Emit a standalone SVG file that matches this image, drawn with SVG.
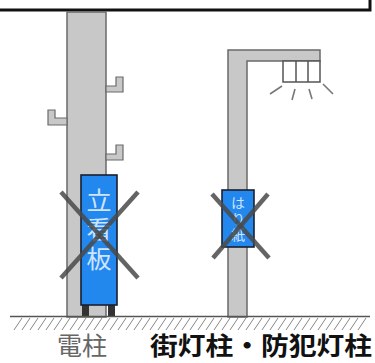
<svg xmlns="http://www.w3.org/2000/svg" width="375" height="363" viewBox="0 0 375 363">
  <style>
    .pole { fill: #c8c8c8; stroke: #6a6a6a; stroke-width: 1.5; }
    .step { fill: #c8c8c8; stroke: #6a6a6a; stroke-width: 1.2; }
    .sign { fill: #2388ee; stroke: #1a2030; stroke-width: 1.6; }
    .leg { fill: #333; }
    .signtext { font-family: "Noto Sans CJK JP", sans-serif; fill: #cfe4ff; writing-mode: vertical-rl; }
    .cross { stroke: #4a4a4a; stroke-width: 4.5; stroke-linecap: butt; opacity: 0.85; }
    .ray { stroke: #777; stroke-width: 1.6; }
    .hatch { stroke: #888; stroke-width: 1; }
    .label { font-family: "Noto Sans CJK JP", sans-serif; }
  </style>
  <rect width="375" height="363" fill="#fff"/>

  <!-- frame edge at the top -->
  <rect x="-6" y="-10" width="376" height="20" fill="#fff" stroke="#111" stroke-width="3"/>

  <!-- utility pole with step bolts -->
  <g id="utility-pole">
    <rect class="pole" x="67" y="12" width="39" height="305"/>
    <path class="step" d="M106 92 H123 V77 H116 V86 H106 Z"/>
    <path class="step" d="M67 125 H48 V110 H55 V118 H67 Z"/>
    <path class="step" d="M106 160 H123 V145 H116 V154 H106 Z"/>
  </g>

  <!-- standing signboard (prohibited) -->
  <g id="standing-sign">
    <rect class="leg" x="82" y="303" width="7" height="13"/>
    <rect class="leg" x="108" y="303" width="7" height="13"/>
    <rect class="sign" x="81" y="175" width="36" height="130"/>
    <text class="signtext" x="99" y="188" font-size="25" letter-spacing="4">立看板</text>
    <line class="cross" x1="61" y1="192" x2="138" y2="278"/>
    <line class="cross" x1="138" y1="192" x2="61" y2="278"/>
  </g>

  <!-- street light -->
  <g id="street-light">
    <path class="pole" d="M228 317 V50 H320 V61 H247 V317 Z"/>
    <rect x="283" y="61" width="37" height="21" fill="#fff" stroke="#555" stroke-width="1.5"/>
    <line x1="296" y1="61" x2="296" y2="82" stroke="#555" stroke-width="1.5"/>
    <line x1="308" y1="61" x2="308" y2="82" stroke="#555" stroke-width="1.5"/>
    <line class="ray" x1="270" y1="94" x2="282" y2="86"/>
    <line class="ray" x1="292" y1="100" x2="295" y2="89"/>
    <line class="ray" x1="312" y1="99" x2="309" y2="89"/>
    <line class="ray" x1="333" y1="94" x2="323" y2="84"/>
  </g>

  <!-- paper poster (prohibited) -->
  <g id="paper-poster">
    <rect class="sign" x="222" y="190" width="32" height="57"/>
    <text class="signtext" x="238" y="196" font-size="14" letter-spacing="2">はり紙</text>
    <line class="cross" x1="212" y1="194" x2="269" y2="258"/>
    <line class="cross" x1="268" y1="194" x2="213" y2="258"/>
  </g>

  <!-- ground -->
  <g id="ground">
    <line x1="10" y1="316.5" x2="370" y2="316.5" stroke="#555" stroke-width="1.5"/>
    <g class="hatch">
      <path d="M14 330 L22 318 M22 330 L30 318 M30 330 L38 318 M38 330 L46 318 M46 330 L54 318 M54 330 L62 318 M62 330 L70 318 M70 330 L78 318 M78 330 L86 318 M86 330 L94 318 M94 330 L102 318 M102 330 L110 318 M110 330 L118 318 M118 330 L126 318 M126 330 L134 318 M134 330 L142 318 M142 330 L150 318 M150 330 L158 318 M158 330 L166 318 M166 330 L174 318 M174 330 L182 318 M182 330 L190 318 M190 330 L198 318 M198 330 L206 318 M206 330 L214 318 M214 330 L222 318 M222 330 L230 318 M230 330 L238 318 M238 330 L246 318 M246 330 L254 318 M254 330 L262 318 M262 330 L270 318 M270 330 L278 318 M278 330 L286 318 M286 330 L294 318 M294 330 L302 318 M302 330 L310 318 M310 330 L318 318 M318 330 L326 318 M326 330 L334 318 M334 330 L342 318 M342 330 L350 318 M350 330 L358 318 M358 330 L366 318"/>
    </g>
  </g>

  <!-- captions -->
  <text class="label" x="57" y="355" font-size="25" fill="#666" textLength="50" lengthAdjust="spacingAndGlyphs">電柱</text>
  <text class="label" x="150" y="355" font-size="25" font-weight="bold" fill="#111" textLength="222" lengthAdjust="spacingAndGlyphs">街灯柱・防犯灯柱</text>
</svg>
